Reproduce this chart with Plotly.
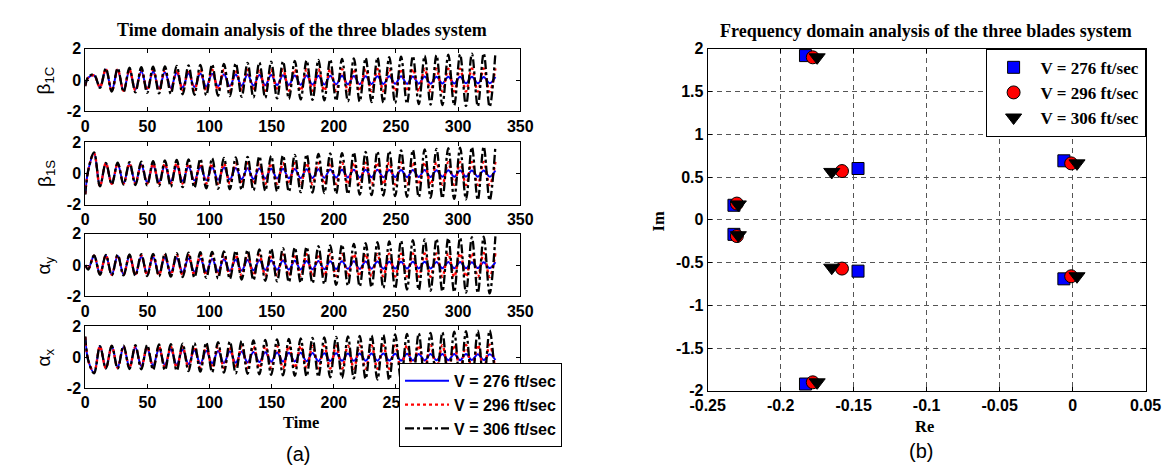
import plotly.graph_objects as go

W, H = 1174, 468


def px(x):
    return x / W


def py(y):
    return 1 - y / H


# ---------------- data: time responses (values at successive extremes) -------------
# sampling instants: start, then successive peaks/troughs (~9.5 s period), then end
t_ext = [0.0, 2.4] + [round(7.1 + 4.75 * k, 2) for k in range(68)] + [330.0]

speeds = ["V = 276 ft/sec", "V = 296 ft/sec", "V = 306 ft/sec"]

# beta_1C
b1c_start = [[-0.35, 0.15, 0.3, -0.45], [-0.35, 0.15, 0.3, -0.45], [-0.4, 0.2, 0.35, -0.5]]
b1c_276 = [0.68, 0.65, 0.61, 0.57, 0.54, 0.5, 0.47, 0.44, 0.42, 0.4, 0.38, 0.36, 0.35, 0.33, 0.32,
           0.31, 0.3, 0.29, 0.28, 0.27, 0.27, 0.26, 0.25, 0.25, 0.24, 0.24, 0.23, 0.23, 0.22, 0.22,
           0.21, 0.21, 0.2, 0.2]
b1c_296 = [0.7, 0.68, 0.66, 0.65, 0.65, 0.65, 0.65, 0.66, 0.66, 0.66, 0.67, 0.67, 0.67, 0.68, 0.68,
           0.68, 0.69, 0.69, 0.69, 0.7, 0.7, 0.7, 0.71, 0.71, 0.71, 0.72, 0.72, 0.72, 0.73, 0.73,
           0.73, 0.74, 0.74, 0.75]
b1c_306 = [0.74, 0.76, 0.79, 0.82, 0.85, 0.88, 0.91, 0.94, 0.97, 1.0, 1.03, 1.07, 1.1, 1.13, 1.17,
           1.2, 1.23, 1.26, 1.29, 1.32, 1.35, 1.38, 1.41, 1.44, 1.47, 1.5, 1.53, 1.56, 1.59, 1.62,
           1.65, 1.68, 1.71, 1.74]

# beta_1S
b1s_start = [[-1.3, 0.2, 1.3, -0.8], [-1.3, 0.2, 1.3, -0.8], [-1.35, 0.2, 1.35, -0.82]]
b1s_276 = [0.65, 0.62, 0.6, 0.57, 0.54, 0.51, 0.48, 0.45, 0.42, 0.4, 0.38, 0.36, 0.34, 0.32, 0.31,
           0.3, 0.29, 0.28, 0.27, 0.26, 0.25, 0.25, 0.24, 0.24, 0.23, 0.23, 0.22, 0.22, 0.21, 0.21,
           0.2, 0.2, 0.2, 0.2]
b1s_296 = [0.66, 0.64, 0.63, 0.63, 0.63, 0.63, 0.64, 0.64, 0.64, 0.65, 0.65, 0.65, 0.66, 0.66, 0.66,
           0.67, 0.67, 0.68, 0.68, 0.68, 0.69, 0.69, 0.7, 0.7, 0.7, 0.71, 0.71, 0.72, 0.72, 0.73,
           0.73, 0.74, 0.74, 0.75]
b1s_306 = [0.68, 0.7, 0.73, 0.76, 0.8, 0.84, 0.87, 0.9, 0.94, 0.97, 1.0, 1.03, 1.07, 1.1, 1.13,
           1.16, 1.19, 1.22, 1.25, 1.28, 1.31, 1.35, 1.38, 1.41, 1.44, 1.48, 1.51, 1.55, 1.58, 1.62,
           1.65, 1.69, 1.72, 1.75]

# alpha_y
ay_start = [[0.0, -0.25, 0.6, -0.55], [0.0, -0.25, 0.6, -0.55], [0.0, -0.28, 0.62, -0.62]]
ay_276 = [0.62, 0.6, 0.58, 0.55, 0.52, 0.49, 0.46, 0.43, 0.41, 0.39, 0.37, 0.35, 0.33, 0.31, 0.3,
          0.29, 0.28, 0.27, 0.26, 0.25, 0.24, 0.24, 0.23, 0.23, 0.22, 0.22, 0.21, 0.21, 0.2, 0.2,
          0.2, 0.19, 0.19, 0.19]
ay_296 = [0.62, 0.62, 0.62, 0.62, 0.63, 0.63, 0.64, 0.64, 0.65, 0.65, 0.66, 0.66, 0.67, 0.67, 0.68,
          0.68, 0.69, 0.69, 0.7, 0.7, 0.71, 0.71, 0.72, 0.72, 0.73, 0.73, 0.74, 0.74, 0.75, 0.75,
          0.76, 0.76, 0.77, 0.77]
ay_306 = [0.65, 0.66, 0.68, 0.7, 0.72, 0.74, 0.76, 0.79, 0.82, 0.85, 0.88, 0.92, 0.96, 1.0, 1.04,
          1.08, 1.12, 1.16, 1.21, 1.26, 1.31, 1.36, 1.41, 1.46, 1.51, 1.56, 1.6, 1.64, 1.68, 1.72,
          1.75, 1.78, 1.81, 1.84]

# alpha_x
ax_start = [[1.3, -0.2, -1.0, 0.7], [1.3, -0.2, -1.0, 0.7], [1.35, -0.2, -1.05, 0.72]]
ax_276 = [0.7, 0.66, 0.62, 0.58, 0.55, 0.51, 0.48, 0.45, 0.42, 0.4, 0.38, 0.36, 0.34, 0.32, 0.3,
          0.29, 0.28, 0.27, 0.26, 0.25, 0.24, 0.24, 0.23, 0.23, 0.22, 0.22, 0.21, 0.21, 0.2, 0.2,
          0.2, 0.19, 0.19, 0.19]
ax_296 = [0.72, 0.7, 0.68, 0.67, 0.67, 0.67, 0.67, 0.68, 0.68, 0.69, 0.69, 0.7, 0.7, 0.71, 0.71,
          0.72, 0.72, 0.73, 0.73, 0.74, 0.74, 0.75, 0.75, 0.76, 0.76, 0.77, 0.77, 0.78, 0.78, 0.79,
          0.79, 0.8, 0.8, 0.81]
ax_306 = [0.74, 0.75, 0.77, 0.79, 0.82, 0.85, 0.88, 0.91, 0.94, 0.98, 1.01, 1.05, 1.08, 1.11, 1.15,
          1.18, 1.21, 1.25, 1.28, 1.31, 1.35, 1.38, 1.41, 1.45, 1.48, 1.51, 1.55, 1.58, 1.61, 1.65,
          1.68, 1.71, 1.74, 1.77]

panel_labels = ["β<sub>1C</sub>", "β<sub>1S</sub>", "α<sub>y</sub>", "α<sub>x</sub>"]
panel_starts = [b1c_start, b1s_start, ay_start, ax_start]
panel_amps = [[b1c_276, b1c_296, b1c_306], [b1s_276, b1s_296, b1s_306],
              [ay_276, ay_296, ay_306], [ax_276, ax_296, ax_306]]
panel_first = [1, 1, 1, -1]  # +1: peak at t = 16.6 s, -1: trough

time_ticks = [0, 50, 100, 150, 200, 250, 300, 350]
panel_yticks = [-2, 0, 2]

# ---------------- data: eigenvalues -------------
re_276 = [-0.183, -0.183, -0.147, -0.147, -0.232, -0.232, -0.006, -0.006]
im_276 = [1.92, -1.92, 0.60, -0.60, 0.17, -0.17, 0.69, -0.69]
re_296 = [-0.178, -0.178, -0.158, -0.158, -0.230, -0.230, -0.001, -0.001]
im_296 = [1.90, -1.90, 0.57, -0.57, 0.19, -0.19, 0.66, -0.66]
re_306 = [-0.175, -0.175, -0.165, -0.165, -0.229, -0.229, 0.003, 0.003]
im_306 = [1.90, -1.90, 0.56, -0.56, 0.18, -0.18, 0.66, -0.66]

re_ticks = [-0.25, -0.2, -0.15, -0.1, -0.05, 0, 0.05]
re_ticktext = ["-0.25", "-0.2", "-0.15", "-0.1", "-0.05", "0", "0.05"]
im_ticks = [-2, -1.5, -1, -0.5, 0, 0.5, 1, 1.5, 2]
im_ticktext = ["-2", "-1.5", "-1", "-0.5", "0", "0.5", "1", "1.5", "2"]


def build(start, amp, sign):
    vals = list(start)
    for k in range(2, 69):
        a = amp[(k - 2) // 2]
        vals.append(sign * a if k % 2 == 0 else -sign * a)
    return vals


def bold(labels):
    return ["<b>%s</b>" % s for s in labels]


line_styles = [dict(color="#0000FF", width=2, dash="solid"),
               dict(color="#FF0000", width=2.4, dash="dot"),
               dict(color="#000000", width=2.3, dash="dashdot")]

fig = go.Figure()

for p in range(4):
    ax_id = "" if p == 0 else str(p + 1)
    for s in range(3):
        y = build(panel_starts[p][s], panel_amps[p][s], panel_first[p])
        fig.add_trace(go.Scatter(
            x=t_ext, y=y, mode="lines", name=speeds[s],
            line=dict(shape="spline", smoothing=1.0, **line_styles[s]),
            xaxis="x" + ax_id, yaxis="y" + ax_id,
            showlegend=(p == 3), legend="legend"))

markers = [dict(symbol="square", size=12, color="#0000FF", line=dict(color="#000000", width=1)),
           dict(symbol="circle", size=13, color="#FF0000", line=dict(color="#000000", width=1)),
           dict(symbol="triangle-down", size=14, color="#000000", line=dict(color="#000000", width=1))]
for s, (rx, iy) in enumerate([(re_276, im_276), (re_296, im_296), (re_306, im_306)]):
    fig.add_trace(go.Scatter(x=rx, y=iy, mode="markers", name=speeds[s], marker=markers[s],
                             xaxis="x5", yaxis="y5", legend="legend2", cliponaxis=False))

tick_font = dict(family="Arial, Liberation Sans", size=16, color="#000000", weight="bold")
base_axis = dict(showline=True, linecolor="#000000", linewidth=1, mirror="ticks",
                 ticks="inside", ticklen=4, tickcolor="#000000", zeroline=False,
                 showgrid=False, tickfont=tick_font)

panel_px = [(34, 99), (131, 196), (226, 291), (322, 386)]
layout = dict(width=W, height=H, margin=dict(l=0, r=0, t=0, b=0),
              paper_bgcolor="white", plot_bgcolor="white")
for p, (top, bot) in enumerate(panel_px):
    ax_id = "" if p == 0 else str(p + 1)
    layout["xaxis" + ax_id] = dict(base_axis, domain=[px(61), px(509)], range=[0, 350],
                                   tickvals=time_ticks, ticktext=bold([str(v) for v in time_ticks]),
                                   anchor="y" + ax_id)
    layout["yaxis" + ax_id] = dict(base_axis, domain=[py(bot), py(top)], range=[-2, 2],
                                   tickvals=panel_yticks,
                                   ticktext=bold([str(v) for v in panel_yticks]),
                                   anchor="x" + ax_id)

layout["xaxis5"] = dict(base_axis, domain=[px(702), px(1153)], range=[-0.25, 0.05],
                        tickvals=re_ticks, ticktext=bold(re_ticktext),
                        showgrid=True, gridcolor="#555555", gridwidth=1, griddash="5px,4px",
                        anchor="y5")
layout["yaxis5"] = dict(base_axis, domain=[py(389), py(34)], range=[-2, 2],
                        tickvals=im_ticks, ticktext=bold(im_ticktext),
                        showgrid=True, gridcolor="#555555", gridwidth=1, griddash="5px,4px",
                        anchor="x5")

layout["legend"] = dict(x=px(552), xanchor="right", y=py(360), yanchor="top",
                        bgcolor="white", bordercolor="#000000", borderwidth=1,
                        font=dict(family="Arial, Liberation Sans", size=16, color="#000000",
                                  weight="bold"),
                        itemwidth=44, tracegroupgap=0)
layout["legend2"] = dict(x=px(1153), xanchor="right", y=py(34), yanchor="top",
                         bgcolor="white", bordercolor="#000000", borderwidth=1,
                         font=dict(family="Times New Roman, Liberation Serif", size=17,
                                   color="#000000", weight="bold"),
                         itemwidth=44, tracegroupgap=0)
fig.update_layout(**layout)

serif_bold = dict(family="Times New Roman, Liberation Serif", size=16.5, color="#000000",
                  weight="bold")
title_font = dict(serif_bold, size=18)
ann = []
ann.append(dict(text="<b>Time domain analysis of the three blades system</b>", x=px(284.5),
                y=py(15), font=title_font))
ann.append(dict(text="<b>Frequency domain analysis of the three blades system</b>", x=px(927),
                y=py(16), font=title_font))
ann.append(dict(text="<b>Time</b>", x=px(283), y=py(422), font=serif_bold))
ann.append(dict(text="<b>Re</b>", x=px(925), y=py(426), font=serif_bold))
ann.append(dict(text="<b>Im</b>", x=px(651), y=py(213), font=serif_bold, textangle=-90))
ann.append(dict(text="(a)", x=px(280), y=py(454),
                font=dict(family="Arial, Liberation Sans", size=20, color="#000000")))
ann.append(dict(text="(b)", x=px(922), y=py(451),
                font=dict(family="Arial, Liberation Sans", size=20, color="#000000")))
for p, (top, bot) in enumerate(panel_px):
    ann.append(dict(text=panel_labels[p], x=px(20), y=py((top + bot) / 2), textangle=-90,
                    font=dict(family="Arial, Liberation Sans", size=19, color="#000000")))
for a in ann:
    a.update(xref="paper", yref="paper", showarrow=False, xanchor="center", yanchor="middle")
fig.update_layout(annotations=ann)

fig.write_html("out.html")
